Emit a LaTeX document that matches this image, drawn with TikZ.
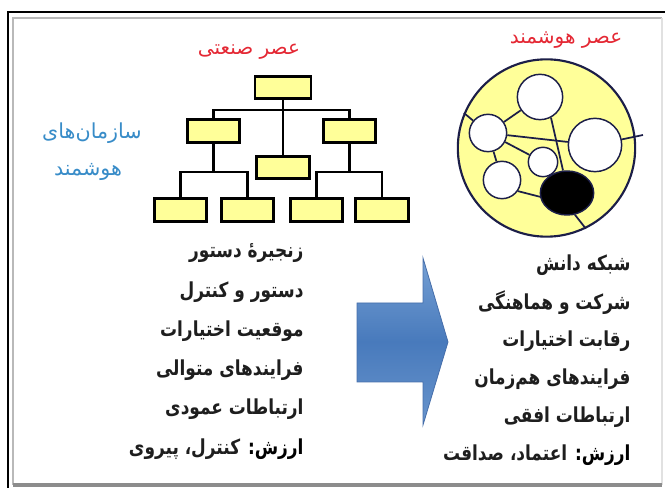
\documentclass[tikz,border=0pt]{standalone}
\usepackage{fontspec}
\usetikzlibrary{shapes.geometric}
\newfontfamily\arabicfont[Script=Arabic]{DejaVu Sans}
\newfontfamily\arabiclist[Script=Arabic,FakeStretch=0.82]{DejaVu Sans}
\TeXXeTstate=1

\definecolor{boxyellow}{RGB}{255,255,153}
\definecolor{netnavy}{RGB}{28,30,72}
\definecolor{titlered}{RGB}{228,40,52}
\definecolor{smartblue}{RGB}{56,140,200}
\definecolor{textgray}{RGB}{30,30,30}

\tikzset{every picture/.style={line width=0.75pt}}
\tikzset{
  orgbox/.style={draw, line width=2.2pt, fill=boxyellow, minimum width=39.5pt, minimum height=17pt, inner sep=0pt},
  orgline/.style={line width=2.2pt},
  netcircle/.style={circle, draw=netnavy, line width=1.1pt, fill=white, inner sep=0pt},
  netline/.style={draw=netnavy, line width=1.3pt},
  listtext/.style={anchor=east, inner sep=0.75pt, text=textgray, font=\arabiclist\bfseries\fontsize{15.5}{17}\selectfont},
  agetitle/.style={inner sep=0.75pt, text=titlered, font=\arabicfont\fontsize{15}{17}\selectfont},
  smarttext/.style={inner sep=0.75pt, text=smartblue, font=\arabicfont\fontsize{15.5}{17}\selectfont}
}

\begin{document}
\begin{tikzpicture}[x=0.75pt,y=0.75pt,yscale=-1,xscale=1]
\useasboundingbox (0,0) rectangle (665,488);

%Frame
\draw [line width=1.4pt] (8,488) -- (8,12) -- (665,12) ;
\draw [color={rgb, 255:red, 185; green, 185; blue, 185 }, line width=1.8pt] (13,485) -- (13,18) -- (662,18) ;
\draw [color={rgb, 255:red, 225; green, 225; blue, 225 }, line width=1.2pt] (662,18) -- (662,485) ;
\draw [color={rgb, 255:red, 140; green, 140; blue, 140 }, line width=2.4pt] (13,485) -- (662,485) ;

% Org chart boxes
\node [orgbox, minimum width=42pt] (top) at (283,87.5) {};
\node [orgbox] (midl) at (213.5,131) {};
\node [orgbox] (midr) at (349.5,131) {};
\node [orgbox] (mid) at (283,167.5) {};
\node [orgbox] (b1) at (180.5,210) {};
\node [orgbox] (b2) at (247.5,210) {};
\node [orgbox] (b3) at (316.5,210) {};
\node [orgbox] (b4) at (382,210) {};

% Org chart lines
\coordinate (jt) at (283,110) ;
\coordinate (jl) at (213.5,172) ;
\coordinate (jr) at (349.5,172) ;
\draw [orgline] (top.south) -- (mid.north) ;
\draw [orgline] (midl.north) |- (jt) -| (midr.north) ;
\draw [orgline] (midl.south) -- (jl) ;
\draw [orgline] (b1.north) |- (jl) -| (b2.north) ;
\draw [orgline] (midr.south) -- (jr) ;
\draw [orgline] (b3.north) |- (jr) -| (b4.north) ;

% Knowledge network
\node [circle, draw=netnavy, line width=1.6pt, fill=boxyellow, minimum size=133pt, inner sep=0pt] (outer) at (546.5,148) {};
\node [netcircle, minimum size=34pt] (ctop) at (540,97) {};
\node [netcircle, minimum size=28pt] (cleft) at (488,133) {};
\node [netcircle, minimum size=40pt] (cright) at (595,145) {};
\node [netcircle, minimum size=22pt] (csmall) at (543,162) {};
\node [netcircle, minimum size=28pt] (cbottom) at (502,180) {};
\node [ellipse, draw=netnavy, line width=1.1pt, fill=black, minimum width=40pt, minimum height=33pt, inner sep=0pt] (cblack) at (567,193) {};
\coordinate (cout) at (643,135) ;

\draw [netline] (outer.157) -- (cleft) ;
\draw [netline] (cleft) -- (ctop) ;
\draw [netline] (cleft) -- (cright) ;
\draw [netline] (cright) -- (cout) ;
\draw [netline] (ctop.-62) -- (cblack.100) ;
\draw [netline] (cleft) -- (csmall) ;
\draw [netline] (cleft) -- (cbottom) ;
\draw [netline] (cbottom.-35) -- (cblack.188) ;
\draw [netline] (cblack.-70) -- (outer.-64) ;

% Arrow
\draw [draw={rgb, 255:red, 70; green, 110; blue, 170 }, line width=0.6pt, top color={rgb, 255:red, 118; green, 160; blue, 212 }, bottom color={rgb, 255:red, 104; green, 148; blue, 204 }, middle color={rgb, 255:red, 72; green, 122; blue, 188 }] (357,303) -- (423,303) -- (423,258) -- (448,342) -- (423,425) -- (423,382) -- (357,382) -- cycle ;

% Text Node
\draw (249,52) node [agetitle] (oldage) {\beginR عصر صنعتی\endR};
% Text Node
\draw (566,40) node [agetitle] (newage) {\beginR عصر هوشمند\endR};
% Text Node
\draw (92,133) node [smarttext] (smart1) {\beginR سازمان‌های\endR};
% Text Node
\draw (88,172) node [smarttext] (smart2) {\beginR هوشمند\endR};

% Text Node
\draw (305,253) node [listtext] (oldA) {\beginR زنجیرهٔ دستور\endR};
\draw (305,292) node [listtext] (oldB) {\beginR دستور و کنترل\endR};
\draw (305,331) node [listtext] (oldC) {\beginR موقعیت اختیارات\endR};
\draw (305,370) node [listtext] (oldD) {\beginR فرایندهای متوالی\endR};
\draw (305,409) node [listtext] (oldE) {\beginR ارتباطات عمودی\endR};
\draw (305,449) node [listtext] (oldF) {\beginR{\color{titlered}ارزش:} کنترل، پیروی\endR};

% Text Node
\draw (632,265) node [listtext] (newA) {\beginR شبکه دانش\endR};
\draw (632,303) node [listtext] (newB) {\beginR شرکت و هماهنگی\endR};
\draw (632,341) node [listtext] (newC) {\beginR رقابت اختیارات\endR};
\draw (632,379) node [listtext] (newD) {\beginR فرایندهای هم‌زمان\endR};
\draw (632,417) node [listtext] (newE) {\beginR ارتباطات افقی\endR};
\draw (632,455) node [listtext] (newF) {\beginR{\color{titlered}ارزش:} اعتماد، صداقت\endR};

\end{tikzpicture}
\end{document}
